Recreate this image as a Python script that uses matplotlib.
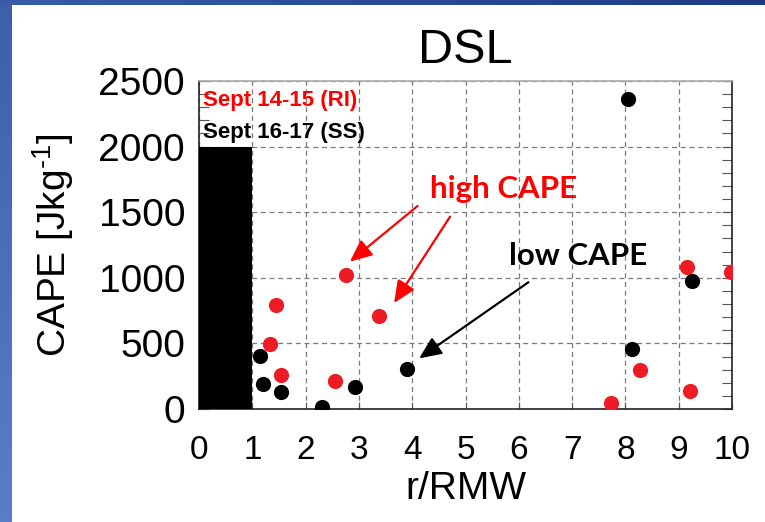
import numpy as np
import matplotlib
matplotlib.use("Agg")
import matplotlib.pyplot as plt
from matplotlib.ticker import MultipleLocator

plt.rcParams['font.family'] = ['Liberation Sans', 'DejaVu Sans']
plt.rcParams['mathtext.fontset'] = 'custom'
plt.rcParams['mathtext.rm'] = 'Liberation Sans'

# values
red_x = [1.34, 1.44, 1.54, 2.55, 2.75, 3.38, 7.73, 8.27, 9.16, 9.22, 9.99]
red_y = [493, 790, 262, 213, 1021, 711, 43, 295, 1085, 140, 1042]
black_x = [1.15, 1.21, 1.53, 2.31, 2.93, 3.91, 8.04, 8.12, 9.25]
black_y = [401, 188, 132, 13, 170, 305, 2365, 460, 978]

# blocked region inside the RMW
box_x = [0, 1]
box_top = 2000

x_ticks = list(range(0, 11))
y_ticks = [0, 500, 1000, 1500, 2000, 2500]

# annotation arrows (tail -> head)
high_arrows = [((4.10, 1547), (2.83, 1123)), ((4.71, 1466), (3.66, 808))]
low_arrows = [((6.18, 966), (4.13, 386))]

fig = plt.figure(figsize=(7.65, 5.22), dpi=100)
fig.patch.set_facecolor('white')

# slide frame (blue bands on left and top)
band = fig.add_axes([0, 0, 12 / 765, 1])
band.imshow(np.linspace(0, 1, 50).reshape(-1, 1), aspect='auto', cmap=matplotlib.colors.LinearSegmentedColormap.from_list('l', ['#3f5fa8', '#5a7dc8']))
band.axis('off')
top = fig.add_axes([0, 1 - 5 / 522, 1, 5 / 522])
top.imshow(np.linspace(0, 1, 50).reshape(1, -1), aspect='auto', cmap=matplotlib.colors.LinearSegmentedColormap.from_list('t', ['#3a5ca8', '#1d3b85']))
top.axis('off')

ax = fig.add_axes([199 / 765, 113 / 522, 533 / 765, 328 / 522])

ax.fill_between(box_x, 0, box_top, color='black', zorder=3, linewidth=0)
ax.scatter(red_x, red_y, s=120, color='#ED1C24', zorder=4, linewidths=0)
ax.scatter(black_x, black_y, s=120, color='black', zorder=4, linewidths=0)

ax.set_xlim(0, 10)
ax.set_ylim(0, 2500)
ax.set_xticks(x_ticks)
ax.set_yticks(y_ticks)
ax.yaxis.set_minor_locator(MultipleLocator(100))
ax.tick_params(axis='y', which='both', direction='in', length=7, width=0.8,
               color='#555555', right=True, labelsize=28, pad=10)
ax.tick_params(axis='x', which='both', direction='in', length=5, width=0.8,
               color='#555555', labelsize=24, pad=19)
ax.grid(True, linestyle=(0, (4, 3)), color='#7a7a7a', linewidth=0.9, zorder=1)
ax.set_axisbelow(True)
for side in ['left', 'right', 'bottom']:
    ax.spines[side].set_color('#222222')
    ax.spines[side].set_linewidth(1.2)
ax.spines['top'].set_color('#aaaaaa')
ax.spines['top'].set_linewidth(1.2)

ax.set_title('DSL', fontsize=35, pad=13)
ax.set_xlabel('r/RMW', fontsize=28, labelpad=3)
ax.set_ylabel('CAPE [Jkg$^{\\mathregular{\u2010}1}$]', fontsize=28, labelpad=16)

ax.text(0.075, 2309, 'Sept 14-15 (RI)', color='red', fontsize=16,
        fontweight='bold', va='baseline', ha='left', zorder=5)
ax.text(0.075, 2066, 'Sept 16-17 (SS)', color='black', fontsize=16,
        fontweight='bold', va='baseline', ha='left', zorder=5)

ax.text(5.72, 1608, 'high CAPE', color='red', fontsize=22.5, fontweight='bold',
        family='Lato', ha='center', va='baseline', zorder=5)
ax.text(7.11, 1098, 'low CAPE', color='black', fontsize=22.5, fontweight='bold',
        family='Lato', ha='center', va='baseline', zorder=5)

for tail, head in high_arrows:
    ax.annotate('', xy=head, xytext=tail, zorder=5,
                arrowprops=dict(arrowstyle='-|>,head_length=0.9,head_width=0.4',
                                mutation_scale=15, color='red', lw=1.6,
                                shrinkA=0, shrinkB=0))
for tail, head in low_arrows:
    ax.annotate('', xy=head, xytext=tail, zorder=5,
                arrowprops=dict(arrowstyle='-|>,head_length=0.9,head_width=0.4',
                                mutation_scale=15, color='black', lw=1.6,
                                shrinkA=0, shrinkB=0))

fig.savefig('out.png', dpi=100)
